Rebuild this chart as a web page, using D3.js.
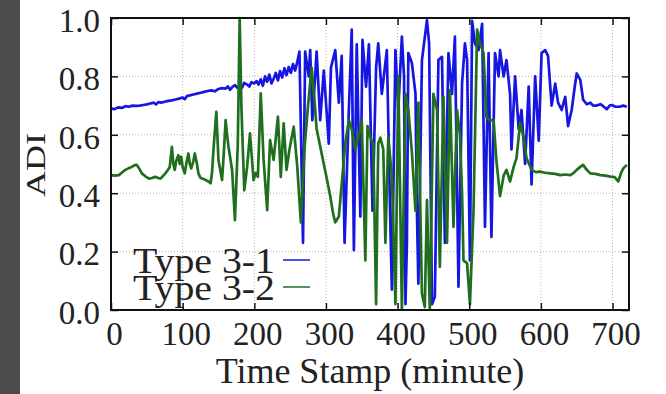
<!DOCTYPE html>
<html>
<head>
<meta charset="utf-8">
<script src="https://cdn.jsdelivr.net/npm/d3@7"></script>
<style>
  html, body { margin: 0; padding: 0; background: #fff; }
  svg { display: block; }
</style>
</head>
<body>
<div id="chart"></div>
<script>
// [minute, ADI]
const type31 = [
  [0,.690],[5,.688],[10,.694],[15,.692],[20,.698],[25,.696],[30,.700],[35,.699],[40,.700],[45,.702],
  [50,.704],[55,.707],[60,.710],[63,.704],[66,.712],[70,.710],[75,.713],[80,.716],[85,.718],[90,.721],
  [95,.724],[100,.728],[103,.722],[106,.733],[110,.735],[115,.738],[120,.741],[125,.744],[130,.747],
  [135,.750],[140,.752],[145,.749],[150,.757],[155,.760],[160,.758],[163,.766],[166,.754],[170,.765],
  [173,.770],[176,.762],[180,.770],[183,.762],[186,.778],[190,.772],[193,.765],[196,.780],[200,.776],
  [203,.784],[206,.772],[209,.790],[212,.768],[215,.800],[218,.782],[221,.806],[224,.776],[227,.792],
  [230,.812],[233,.786],[236,.818],[239,.796],[242,.828],[245,.804],[248,.832],[251,.812],[254,.842],
  [257,.820],[260,.85],[263,.885],[268,.23],[271,.885],[276,.80],[278,.89],[281,.65],[284,.765],
  [287,.885],[292,.65],[297,.82],[304,.57],[307,.83],[313,.89],[318,.71],[322,.87],[326,.23],
  [332,.685],[336,.96],[339,.205],[343,.91],[348,.32],[351,.925],[356,.765],[360,.91],[365,.34],
  [370,.83],[373,.913],[378,.74],[385,.89],[390,.285],[392,.07],[397,.89],[401,.685],[406,.936],
  [409,.80],[411,.02],[413,.23],[415,.88],[420,.845],[425,.74],[427,.34],[429,.09],[434,.856],
  [441,.993],[444,.913],[448,.02],[452,.045],[457,.856],[462,.867],[466,.23],[471,.88],[476,.74],
  [480,.936],[485,.08],[490,.776],[494,.913],[497,.856],[501,.17],[504,.99],[508,.913],[513,.89],
  [518,.98],[522,.285],[527,.88],[531,.25],[536,.88],[541,.80],[543,.89],[548,.80],[552,.856],
  [557,.74],[559,.55],[564,.80],[569,.62],[573,.685],[578,.50],[583,.765],[587,.43],[592,.80],
  [597,.58],[601,.88],[606,.89],[610,.87],[615,.70],[620,.775],[624,.71],[629,.685],[634,.73],
  [638,.63],[643,.685],[647,.76],[650,.81],[655,.788],[659,.72],[664,.705],[669,.71],[673,.70],
  [678,.70],[683,.705],[687,.698],[692,.688],[696,.700],[699,.702],[704,.696],[710,.696],[715,.700],
  [720,.696]
]

const type32 = [
  [0,.462],[5,.460],[11,.462],[15,.470],[20,.48],[25,.486],[29,.49],[33,.496],[36,.497],[40,.482],
  [43,.468],[48,.458],[53,.45],[57,.452],[62,.456],[66,.452],[69,.45],[73,.46],[76,.468],[80,.482],
  [82,.49],[85,.559],[87,.50],[89,.48],[91,.51],[94,.53],[96,.50],[98,.525],[100,.49],[103,.468],
  [105,.50],[108,.536],[110,.50],[112,.485],[115,.51],[117,.536],[120,.50],[122,.468],[125,.452],
  [128,.45],[132,.445],[136,.44],[139,.434],[141,.47],[143,.548],[147,.679],[150,.514],[155,.445],
  [157,.52],[160,.65],[162,.60],[164,.559],[169,.48],[173,.308],[177,.57],[179.6,1.0],[182,.696],
  [186,.41],[190,.49],[194,.605],[199,.445],[202,.47],[205,.456],[209,.742],[213,.514],[218,.342],
  [222,.582],[227,.514],[233,.662],[237,.456],[241,.639],[245,.48],[249,.548],[255,.628],[260,.49],
  [265,.30],[270,.55],[275,.70],[280,.83],[284,.72],[287,.62],[292,.56],[297,.50],[302,.44],
  [306,.39],[310,.33],[313,.30],[318,.32],[322,.43],[327,.57],[332,.65],[336,.62],[341,.55],
  [346,.60],[350,.65],[355,.17],[358,.63],[362,.59],[366,.57],[370,.02],[373,.57],[376,.59],
  [380,.55],[383,.23],[387,.59],[392,.46],[397,.02],[401,.80],[406,.0],[411,.74],[415,.685],
  [420,.54],[425,.34],[429,.71],[434,.056],[438,.01],[441,.376],[445,.0],[450,.74],[455,.685],
  [459,.148],[464,.73],[469,.23],[473,.753],[478,.285],[483,.685],[487,.60],[490,.40],[492,.17],
  [497,.16],[501,.02],[506,.34],[511,.96],[515,.913],[520,.88],[524,.66],[529,.65],[534,.65],
  [538,.51],[543,.39],[548,.46],[552,.48],[557,.44],[562,.49],[566,.52],[571,.64],[576,.59],
  [580,.52],[587,.48],[593,.472],[599,.474],[606,.47],[613,.468],[620,.466],[627,.462],[634,.464],
  [641,.462],[646,.47],[650,.48],[655,.49],[659,.497],[664,.48],[669,.468],[676,.466],[683,.462],
  [690,.46],[697,.457],[703,.455],[708,.44],[712,.47],[715,.485],[720,.497]
]

const xTicks = [0, 100, 200, 300, 400, 500, 600, 700]
const yTicks = [0, 0.2, 0.4, 0.6, 0.8, 1.0]
const seriesNames = ["Type 3-1", "Type 3-2"]
const seriesColors = ["#1616e2", "#1f6f1f"]

const W = 666, H = 394
const plot = { left: 111, right: 629, top: 18, bottom: 310 }
const serif = "'Liberation Serif', 'Times New Roman', serif"

const svg = d3.select("#chart").append("svg")
  .attr("width", W).attr("height", H)
  .attr("viewBox", `0 0 ${W} ${H}`)

svg.append("rect").attr("width", W).attr("height", H).attr("fill", "#fff")
// dark strip at the left edge
svg.append("rect").attr("x", 0).attr("y", 0).attr("width", 20).attr("height", H).attr("fill", "#4b4b4b")

const x = d3.scaleLinear().domain([0, 723]).range([plot.left, plot.right])
const y = d3.scaleLinear().domain([0, 1]).range([plot.bottom, plot.top])

// dotted grid
const grid = svg.append("g").attr("stroke", "#b8b8b8").attr("stroke-width", 1).attr("stroke-dasharray", "1,2")
grid.selectAll("line.gx").data(xTicks.filter(d => d > 0)).join("line")
  .attr("x1", d => x(d)).attr("x2", d => x(d))
  .attr("y1", plot.top).attr("y2", plot.bottom)
grid.selectAll("line.gy").data(yTicks.filter(d => d > 0 && d < 1)).join("line")
  .attr("x1", plot.left).attr("x2", plot.right)
  .attr("y1", d => y(d)).attr("y2", d => y(d))

// series, green drawn last so it sits on top
const line = d3.line().x(d => x(d[0])).y(d => y(d[1]))
const clip = svg.append("clipPath").attr("id", "plotclip").append("rect")
  .attr("x", plot.left).attr("y", plot.top - 2)
  .attr("width", plot.right - plot.left).attr("height", plot.bottom - plot.top + 2)
;[type31, type32].forEach((data, i) => {
  svg.append("path")
    .datum(data)
    .attr("d", line)
    .attr("fill", "none")
    .attr("stroke", seriesColors[i])
    .attr("stroke-width", 2.7)
    .attr("stroke-linejoin", "round")
    .attr("clip-path", "url(#plotclip)")
})

// axes with inward ticks
const styleAxis = g => {
  g.select(".domain").remove()
  g.selectAll(".tick line").attr("stroke", "#111").attr("stroke-width", 1.5)
  g.selectAll("text").attr("font-family", serif).attr("font-size", "33px").attr("fill", "#222")
}

svg.append("g")
  .attr("transform", `translate(0,${plot.bottom})`)
  .call(d3.axisBottom(x).tickValues(xTicks).tickFormat(d3.format("d")).tickSize(-7).tickPadding(12))
  .call(styleAxis)
  .selectAll("text").attr("dx", 3)

svg.append("g")
  .attr("transform", `translate(0,${plot.top})`)
  .call(d3.axisTop(x).tickValues(xTicks).tickFormat("").tickSize(-7))
  .call(styleAxis)

svg.append("g")
  .attr("transform", `translate(${plot.left},0)`)
  .call(d3.axisLeft(y).tickValues(yTicks).tickFormat(d3.format(".1f")).tickSize(-7).tickPadding(11))
  .call(styleAxis)
  .selectAll("text").attr("dy", "0.40em")

svg.append("g")
  .attr("transform", `translate(${plot.right},0)`)
  .call(d3.axisRight(y).tickValues(yTicks).tickFormat("").tickSize(-7))
  .call(styleAxis)

// frame
svg.append("rect")
  .attr("x", plot.left).attr("y", plot.top)
  .attr("width", plot.right - plot.left).attr("height", plot.bottom - plot.top)
  .attr("fill", "none").attr("stroke", "#111").attr("stroke-width", 2)

// legend (tight line spacing, as in the reference)
const legend = svg.append("g")
seriesNames.forEach((name, i) => {
  const by = 273 + i * 27
  legend.append("text")
    .attr("x", 133).attr("y", by)
    .attr("textLength", 142).attr("lengthAdjust", "spacingAndGlyphs")
    .attr("font-family", serif).attr("font-size", "35px").attr("fill", "#222")
    .text(name)
  legend.append("line")
    .attr("x1", 283).attr("x2", 310)
    .attr("y1", by - 13).attr("y2", by - 13)
    .attr("stroke", seriesColors[i]).attr("stroke-opacity", 0.75).attr("stroke-width", 2)
})

// axis titles
svg.append("text")
  .attr("x", (plot.left + plot.right) / 2).attr("y", 383)
  .attr("text-anchor", "middle")
  .attr("font-family", serif).attr("font-size", "36px").attr("fill", "#222")
  .text("Time Stamp (minute)")

svg.append("text")
  .attr("transform", "translate(45,165) scale(0.75,1) rotate(-90)")
  .attr("text-anchor", "middle")
  .attr("font-family", serif).attr("font-size", "36px").attr("fill", "#222")
  .text("ADI")
</script>
</body>
</html>
